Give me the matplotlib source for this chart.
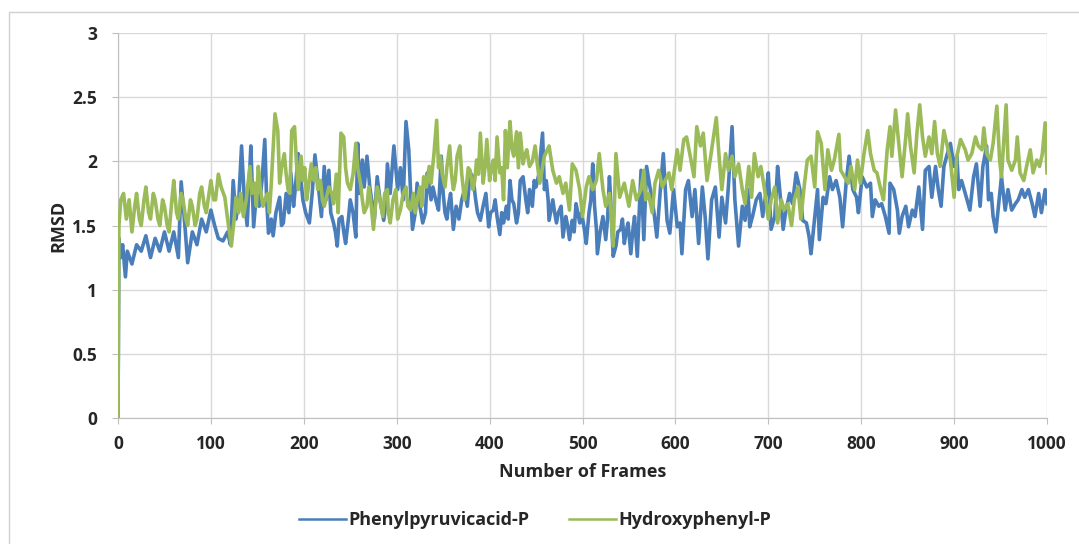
"""RMSD vs frame number for two ligand complexes."""

import matplotlib

matplotlib.use("Agg")
import matplotlib.pyplot as plt
from matplotlib.patches import Rectangle

# --- values (frame, RMSD) ---
blue_frames = [
    0, 1, 3, 5, 8, 10, 15, 20, 25, 30, 35, 40, 45, 50, 55, 60, 65, 68, 72, 75,
    80, 85, 90, 95, 100, 104, 108, 113, 118, 121, 124, 127, 130, 133, 136, 139,
    141, 143, 146, 149, 152, 155, 158, 160, 162, 165, 167, 170, 174, 176, 178,
    181, 184, 186, 189, 191, 194, 197, 199, 202, 206, 209, 212, 215, 219, 222,
    224, 227, 229, 232, 234, 236, 238, 241, 243, 245, 248, 250, 253, 256, 258,
    260, 263, 265, 268, 271, 274, 276, 279, 282, 286, 288, 290, 293, 297, 299,
    301, 304, 307, 310, 313, 315, 317, 320, 322, 325, 328, 331, 333, 335, 337,
    339, 342, 345, 348, 350, 352, 354, 356, 358, 361, 364, 367, 370, 373, 376,
    379, 382, 385, 387, 390, 393, 396, 399, 401, 404, 406, 408, 411, 413, 415,
    418, 420, 422, 424, 426, 429, 431, 433, 436, 439, 441, 443, 446, 448, 450,
    453, 457, 459, 461, 463, 464, 468, 470, 472, 474, 477, 479, 482, 484, 486,
    489, 491, 493, 495, 497, 499, 502, 504, 507, 509, 511, 513, 515, 516, 519,
    522, 525, 527, 529, 531, 533, 536, 538, 541, 543, 545, 547, 549, 552, 554,
    556, 559, 561, 563, 566, 569, 573, 577, 580, 584, 587, 591, 594, 598, 602,
    605, 607, 611, 614, 618, 621, 625, 629, 632, 635, 639, 643, 647, 650, 654,
    657, 661, 664, 668, 672, 675, 678, 680, 683, 687, 691, 694, 698, 700, 703,
    707, 710, 712, 716, 719, 723, 726, 730, 734, 737, 741, 744, 746, 750, 753,
    755, 759, 762, 766, 769, 773, 777, 780, 784, 787, 791, 795, 797, 801, 806,
    810, 812, 815, 819, 822, 826, 830, 831, 835, 839, 841, 844, 848, 851, 855,
    858, 862, 866, 869, 873, 876, 880, 883, 886, 889, 892, 896, 900, 903, 905,
    908, 912, 917, 921, 924, 928, 931, 935, 937, 940, 942, 945, 948, 951, 955,
    958, 962, 966, 969, 973, 976, 980, 984, 987, 991, 994, 998, 1000,
]
blue_rmsd = [
    0.0, 1.40, 1.25, 1.35, 1.10, 1.30, 1.20, 1.35, 1.30, 1.42, 1.25, 1.40, 1.30,
    1.45, 1.30, 1.45, 1.25, 1.84, 1.50, 1.21, 1.45, 1.35, 1.55, 1.45, 1.62, 1.50,
    1.40, 1.38, 1.45, 1.35, 1.85, 1.55, 1.70, 2.12, 1.70, 1.50, 1.80, 2.12, 1.49,
    1.75, 1.65, 1.85, 2.17, 1.70, 1.44, 1.55, 1.42, 1.60, 1.72, 1.50, 1.52, 1.75,
    1.60, 1.91, 1.65, 1.80, 2.06, 1.85, 1.70, 1.60, 1.52, 1.75, 2.05, 1.85, 1.57,
    1.96, 1.70, 1.93, 1.60, 1.52, 1.45, 1.34, 1.55, 1.57, 1.45, 1.36, 1.55, 1.70,
    1.60, 1.41, 2.14, 1.75, 2.01, 1.80, 2.04, 1.80, 1.65, 1.55, 1.88, 1.70, 1.54,
    1.65, 1.98, 1.75, 2.12, 1.95, 1.78, 1.95, 1.70, 2.31, 2.09, 1.75, 1.47, 1.60,
    1.83, 1.65, 1.52, 1.60, 1.91, 1.80, 1.70, 1.80, 1.70, 1.62, 2.04, 1.75, 1.60,
    1.55, 1.67, 1.75, 1.47, 1.65, 1.55, 1.70, 1.78, 1.65, 1.91, 1.88, 1.70, 1.60,
    1.54, 1.65, 1.75, 1.49, 1.60, 1.62, 1.70, 1.57, 1.43, 1.60, 1.52, 1.65, 1.55,
    1.85, 1.70, 1.67, 1.52, 1.60, 1.85, 1.88, 1.70, 1.60, 1.78, 1.65, 1.85, 1.80,
    1.90, 2.22, 1.78, 1.85, 1.70, 1.54, 1.70, 1.60, 1.52, 1.60, 1.65, 1.41, 1.57,
    1.50, 1.39, 1.54, 1.45, 1.67, 1.60, 1.52, 1.60, 1.47, 1.36, 1.60, 1.70, 1.98,
    1.65, 1.47, 1.28, 1.45, 1.57, 1.39, 1.55, 1.88, 1.60, 1.26, 1.34, 1.45, 1.47,
    1.55, 1.36, 1.45, 1.52, 1.28, 1.45, 1.57, 1.26, 1.60, 1.93, 1.39, 1.96, 1.78,
    1.60, 1.41, 1.80, 2.06, 1.54, 1.44, 1.78, 1.49, 1.52, 1.28, 1.78, 1.85, 1.57,
    1.78, 1.36, 1.80, 1.57, 1.24, 1.70, 1.80, 1.41, 1.72, 1.52, 1.80, 2.27, 1.70,
    1.34, 1.65, 1.54, 1.78, 1.49, 1.57, 1.70, 1.75, 1.57, 1.78, 1.91, 1.47, 1.57,
    1.96, 1.80, 1.47, 1.62, 1.75, 1.67, 1.91, 1.78, 1.54, 1.52, 1.41, 1.28, 1.57,
    1.78, 1.39, 1.72, 1.67, 1.88, 1.78, 1.85, 1.72, 1.49, 1.85, 2.04, 1.78, 1.72,
    1.60, 1.88, 1.80, 1.83, 1.57, 1.70, 1.65, 1.67, 1.57, 1.44, 1.83, 1.78, 1.62,
    1.44, 1.57, 1.65, 1.49, 1.62, 1.57, 1.80, 1.47, 1.93, 1.96, 1.72, 1.96, 1.78,
    1.65, 1.96, 2.04, 2.14, 1.96, 2.04, 1.78, 1.85, 1.75, 1.62, 1.88, 1.98, 1.65,
    1.96, 2.12, 1.70, 1.75, 1.57, 1.45, 1.67, 1.88, 1.62, 1.78, 1.62, 1.67, 1.70,
    1.78, 1.72, 1.78, 1.67, 1.57, 1.75, 1.60, 1.78, 1.67,
]

green_frames = [
    0, 1, 3, 6, 9, 12, 15, 18, 20, 23, 25, 28, 30, 33, 35, 38, 40, 43, 45, 48,
    50, 53, 55, 58, 60, 63, 65, 68, 70, 73, 75, 78, 80, 83, 85, 88, 90, 93, 95,
    98, 100, 103, 105, 108, 111, 115, 118, 122, 125, 127, 130, 132, 135, 138,
    142, 144, 147, 149, 151, 153, 156, 158, 161, 163, 165, 169, 172, 174, 176,
    179, 181, 183, 185, 187, 190, 192, 194, 197, 199, 201, 203, 205, 208, 211,
    213, 215, 218, 220, 222, 227, 230, 232, 235, 237, 240, 243, 245, 247, 250,
    253, 256, 258, 261, 263, 265, 268, 270, 272, 275, 277, 279, 282, 285, 287,
    290, 291, 293, 296, 299, 301, 304, 307, 310, 312, 315, 318, 320, 322, 325,
    327, 329, 332, 335, 337, 340, 343, 345, 347, 349, 352, 354, 357, 359, 361,
    363, 365, 368, 370, 373, 375, 377, 379, 382, 384, 386, 388, 390, 393, 395,
    397, 400, 402, 404, 406, 408, 411, 413, 415, 417, 419, 422, 424, 426, 429,
    431, 433, 436, 438, 440, 443, 446, 449, 451, 454, 459, 464, 468, 472, 475,
    479, 482, 486, 489, 493, 497, 500, 504, 507, 511, 515, 518, 522, 525, 529,
    533, 536, 540, 545, 550, 554, 558, 563, 566, 568, 571, 575, 578, 582, 586,
    589, 593, 596, 602, 605, 609, 612, 616, 620, 623, 627, 630, 634, 638, 641,
    644, 647, 650, 654, 657, 661, 664, 668, 672, 675, 679, 682, 685, 689, 692,
    696, 700, 703, 707, 710, 714, 717, 721, 725, 728, 732, 735, 739, 742, 746,
    750, 753, 757, 761, 764, 768, 771, 776, 778, 782, 786, 789, 793, 796, 799,
    803, 807, 810, 814, 817, 821, 824, 828, 831, 833, 837, 840, 844, 848, 850,
    853, 857, 860, 863, 866, 869, 873, 876, 879, 882, 885, 889, 892, 896, 900,
    903, 907, 912, 915, 919, 923, 926, 930, 932, 935, 939, 942, 946, 949, 951,
    956, 958, 962, 966, 968, 971, 975, 978, 982, 985, 989, 992, 995, 998, 1000,
]
green_rmsd = [
    0.0, 1.50, 1.70, 1.75, 1.55, 1.70, 1.45, 1.65, 1.75, 1.55, 1.50, 1.70, 1.80,
    1.60, 1.55, 1.75, 1.70, 1.55, 1.50, 1.70, 1.65, 1.50, 1.45, 1.70, 1.85, 1.60,
    1.55, 1.75, 1.70, 1.55, 1.50, 1.70, 1.65, 1.50, 1.55, 1.75, 1.80, 1.65, 1.60,
    1.75, 1.85, 1.70, 1.70, 1.90, 1.80, 1.72, 1.55, 1.34, 1.55, 1.72, 1.60, 1.75,
    1.57, 1.70, 1.96, 1.75, 1.83, 1.65, 1.96, 1.80, 1.65, 1.70, 1.75, 1.60, 1.83,
    2.37, 2.24, 1.83, 1.95, 2.06, 1.90, 1.78, 1.75, 2.24, 2.27, 2.00, 1.78, 2.04,
    1.85, 1.95, 1.70, 1.80, 1.98, 1.85, 1.95, 1.78, 1.85, 1.70, 1.65, 1.80, 1.75,
    1.67, 1.90, 1.60, 2.22, 2.19, 1.95, 1.83, 1.78, 1.90, 2.14, 1.95, 1.83, 1.70,
    1.60, 1.65, 1.80, 1.70, 1.47, 1.65, 1.80, 1.70, 1.57, 1.75, 1.78, 1.60, 1.52,
    1.70, 1.78, 1.55, 1.62, 1.75, 1.80, 1.65, 1.62, 1.75, 1.60, 1.70, 1.80, 1.65,
    1.88, 1.80, 1.96, 1.83, 2.05, 2.32, 1.95, 2.04, 1.90, 1.80, 1.95, 2.12, 1.90,
    1.78, 1.85, 2.04, 2.12, 1.90, 1.70, 1.80, 1.95, 1.93, 1.78, 1.85, 2.01, 1.90,
    2.22, 1.83, 1.95, 2.17, 1.85, 1.95, 2.01, 1.85, 2.19, 1.91, 1.95, 1.70, 2.24,
    1.95, 2.31, 2.10, 2.04, 2.23, 1.95, 2.22, 1.98, 2.05, 2.09, 1.96, 2.00, 2.12,
    2.00, 1.83, 2.04, 2.12, 1.93, 1.83, 1.88, 1.75, 1.83, 1.62, 1.98, 1.93, 1.78,
    1.57, 1.80, 1.88, 1.78, 1.85, 2.06, 1.78, 1.65, 1.75, 1.34, 2.06, 1.72, 1.83,
    1.65, 1.85, 1.70, 1.78, 1.93, 1.70, 1.75, 1.60, 1.83, 1.93, 1.80, 1.85, 1.91,
    1.78, 2.09, 1.93, 2.17, 2.19, 2.04, 1.88, 2.27, 2.12, 2.22, 1.85, 2.04, 2.19,
    2.34, 2.04, 1.78, 2.06, 1.93, 2.04, 1.88, 1.98, 1.78, 1.67, 1.96, 1.72, 2.06,
    1.88, 1.96, 1.78, 1.55, 1.70, 1.80, 1.52, 1.70, 1.62, 1.67, 1.50, 1.70, 1.80,
    1.55, 1.83, 2.01, 2.04, 1.80, 2.23, 2.14, 1.78, 2.09, 1.93, 2.01, 2.21, 1.93,
    1.88, 1.83, 1.96, 1.78, 2.01, 1.83, 2.06, 2.24, 2.06, 1.93, 1.91, 1.78, 1.70,
    2.09, 2.27, 2.04, 2.40, 2.17, 1.88, 2.19, 2.37, 2.12, 1.91, 2.22, 2.44, 2.19,
    2.04, 2.19, 2.06, 2.31, 2.06, 1.96, 2.24, 2.14, 2.01, 1.72, 2.04, 2.17, 2.09,
    2.01, 2.06, 2.19, 2.12, 2.09, 2.26, 2.06, 2.01, 2.14, 2.43, 2.01, 1.88, 2.44,
    2.01, 1.93, 2.01, 2.19, 1.91, 1.85, 1.96, 2.09, 1.91, 2.01, 1.96, 2.06, 2.30,
    1.91,
]

series_names = ["Phenylpyruvicacid-P", "Hydroxyphenyl-P"]
x_ticks = list(range(0, 1001, 100))
y_ticks = [0, 0.5, 1, 1.5, 2, 2.5, 3]
y_tick_labels = ["0", "0.5", "1", "1.5", "2", "2.5", "3"]

BLUE = "#4a7ebb"
GREEN = "#9bbb59"
GRID = "#d9d9d9"
TEXT = "#262626"

plt.rcParams["font.family"] = ["Open Sans", "DejaVu Sans"]
plt.rcParams["font.weight"] = "bold"

fig = plt.figure(figsize=(10.79, 5.44), dpi=100)
ax = fig.add_axes([118 / 1079, 1 - 418 / 544, 929 / 1079, 385 / 544])

# chart-area outline
fig.patches.append(Rectangle((0.008, -0.02), 1.0, 0.998, transform=fig.transFigure,
                             fill=False, edgecolor="#d0d0d0", linewidth=1.0))

ax.plot(blue_frames, blue_rmsd, color=BLUE, lw=2.6, label=series_names[0], zorder=2)
ax.plot(green_frames, green_rmsd, color=GREEN, lw=2.6, label=series_names[1], zorder=3)

ax.set_xlim(0, 1000)
ax.set_ylim(0, 3)
ax.set_xticks(x_ticks)
ax.set_yticks(y_ticks)
ax.set_yticklabels(y_tick_labels)
ax.grid(True, color=GRID, lw=1.0)
ax.set_axisbelow(True)
for side in ("top", "right"):
    ax.spines[side].set_visible(False)
for side in ("left", "bottom"):
    ax.spines[side].set_color("#bfbfbf")
ax.tick_params(axis="both", colors="#bfbfbf", length=4, labelsize=12.5,
               labelcolor=TEXT)
ax.tick_params(axis="x", pad=8)
ax.tick_params(axis="y", pad=11)
for lab in ax.get_xticklabels() + ax.get_yticklabels():
    lab.set_fontweight("bold")

ax.set_xlabel("Number of Frames", fontsize=13, fontweight="bold", color=TEXT)
ax.xaxis.label.set_va("center")
ax.xaxis.set_label_coords(0.5, (418 - 472) / 385)
ax.set_ylabel("RMSD", fontsize=13, fontweight="bold", color=TEXT)
ax.yaxis.label.set_va("center")
ax.yaxis.set_label_coords((58 - 118) / 929, 0.5)

leg = fig.legend(loc="center", bbox_to_anchor=(535 / 1079, 1 - 520 / 544), ncol=2,
                 frameon=False, fontsize=13, handlelength=2.6, handletextpad=0.15,
                 columnspacing=2.2)
for h in leg.get_lines():
    h.set_linewidth(1.8)
for t in leg.get_texts():
    t.set_fontweight("bold")
    t.set_color(TEXT)

fig.savefig("out.png", dpi=100)
